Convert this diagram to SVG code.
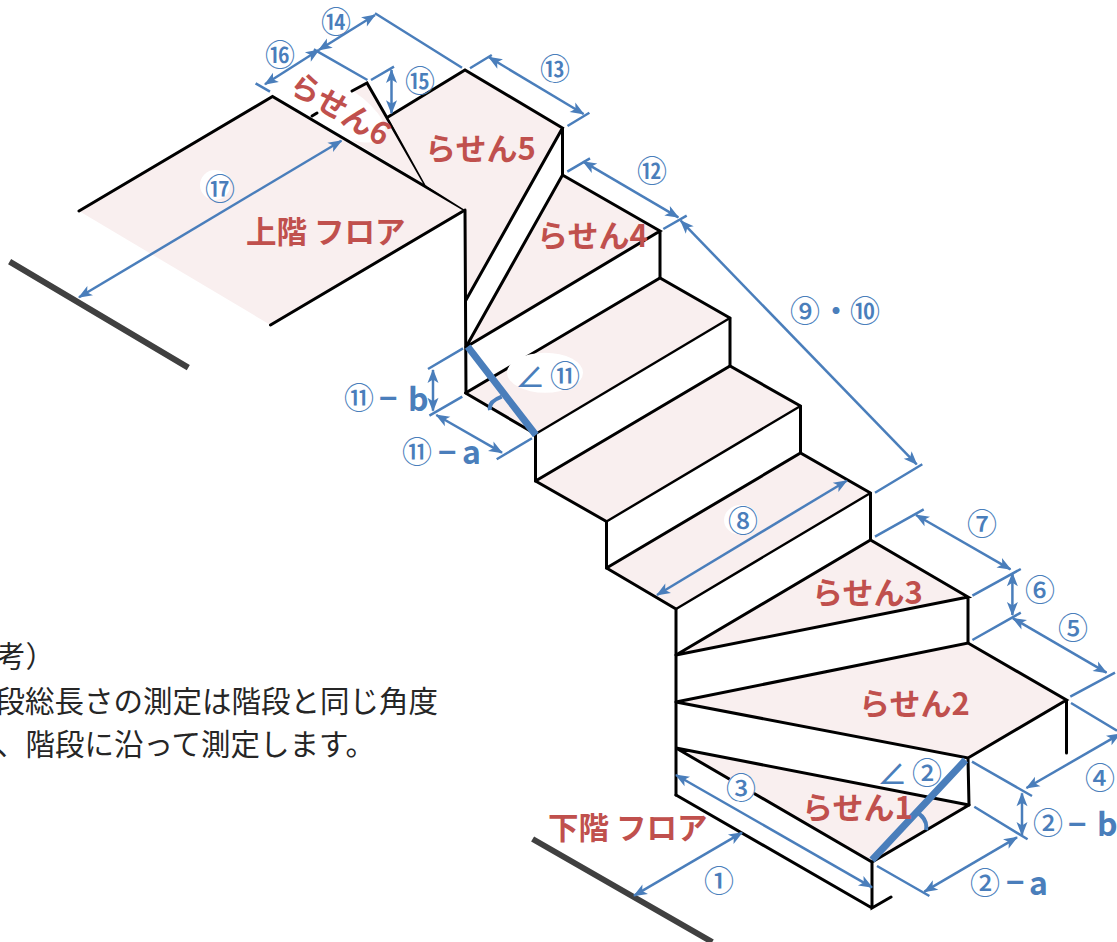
<svg xmlns="http://www.w3.org/2000/svg" width="1117" height="942" viewBox="0 0 1117 942">
<style>
text{font-family:"Noto Sans CJK JP","Noto Sans",sans-serif}
.t{fill:#f9efef;stroke:none}
.e{fill:none;stroke:#000;stroke-width:3;stroke-linejoin:miter;stroke-linecap:round}
.f{stroke-width:2.4}
.w{fill:#fff;stroke:none}
.d{fill:none;stroke:#4a7ebb;stroke-width:2.5}
.a{marker-start:url(#h);marker-end:url(#h)}
.g{fill:none;stroke:#404040;stroke-width:6}
.k{fill:none;stroke:#4a7ebb;stroke-width:7}
.q{stroke-width:4}
.r{fill:#c0504d;font-weight:700;font-size:31px}
.v{font-size:30.5px}
.n{fill:#4a7ebb;font-size:30px;font-weight:500;text-anchor:middle}
.b{fill:#4a7ebb;font-size:32px;font-weight:700}
.c{fill:#262626;font-size:29.5px}
</style>
<defs>
<marker id="h" viewBox="-14 -6 16 12" refX="0" refY="0" markerWidth="16" markerHeight="12" markerUnits="userSpaceOnUse" orient="auto-start-reverse">
<path d="M1 0L-13 -5.5L-9.5 0L-13 5.5Z" fill="#4a7ebb"/>
</marker>
</defs>
<g id="note">
<text class="c" x="-4" y="667">考）</text>
<text class="c" x="438" y="712" text-anchor="end">段総長さの測定は階段と同じ角度</text>
<text class="c" x="-4" y="755">、階段に沿って測定します。</text>
</g>
<g id="rasen6">
<polygon class="t" points="352,91 367,83 425.5,185 312,116"/>
<ellipse class="w" cx="332" cy="106" rx="60" ry="24" transform="rotate(30 332 106)"/>
<path class="e" d="M352 91L367 83L425.5 185M312 116L317 113"/>
</g>
<g id="upper-floor">
<polygon class="t" points="79,211 272.5,96.5 465,210 270.5,325"/>
<path class="e" d="M79 211L272.5 96.5L465 210L270.5 325"/>
</g>
<g id="rasen5">
<polygon class="t" points="388,117 465,70 562.5,128 466,300 465,210 425.5,185"/>
<path class="e" d="M388 117L465 70L562.5 128L466 300M562.5 128V175M465 210L466 393"/>
</g>
<g id="rasen4">
<polygon class="t" points="466,347 562.5,175 660,231"/>
<path class="e" d="M466 347L562.5 175L660 231L466 347M660 231V278"/>
</g>
<g id="step-upper">
<polygon class="t" points="465.5,393 660,278 730,318 535.5,434"/>
<path class="e" d="M465.5 393L660 278L730 318M535.5 434L465.5 393M730 318V366M535.5 434V481"/>
<path class="e f" d="M730 318L535.5 434"/>
</g>
<g id="step-middle">
<polygon class="t" points="535.5,481 730,366 800.5,406 606.5,521.5"/>
<path class="e" d="M535.5 481L730 366L800.5 406M606.5 521.5L535.5 481M800.5 406V453M606.5 521.5V568"/>
<path class="e f" d="M800.5 406L606.5 521.5"/>
</g>
<g id="step-lower">
<polygon class="t" points="606.5,568 800.5,453 870.5,493 676,609"/>
<path class="e" d="M606.5 568L800.5 453L870.5 493M676 609L606.5 568M870.5 493V540M676 609V795"/>
<path class="e f" d="M870.5 493L676 609"/>
</g>
<g id="rasen3">
<polygon class="t" points="676,655 870.5,540 968,597"/>
<path class="e" d="M676 655L870.5 540L968 597L676 655M968 597V643"/>
</g>
<g id="rasen2">
<polygon class="t" points="676,702 968,643 1066.5,700 968,758"/>
<path class="e" d="M676 702L968 643L1066.5 700L968 758L676 702M1066.5 700V753M968 758L969 805"/>
</g>
<g id="rasen1">
<polygon class="t" points="676,748 969,805 872,862"/>
<path class="e" d="M969 805L676 748L872 862L969 805M872 862V908L891 897M676 795L872 908"/>
</g>
<g id="connectors">
<path class="g" d="M9.6 261.7L188.3 367.7M532.6 839L712.3 942"/>
<path class="k" d="M467.7 346.7L535.8 435M965.5 760L872 860"/>
<path class="d q" d="M501.7 396.7Q488 402 490 410M918 813Q928 820 926 830"/>
<path class="d a" d="M318.8 50L375 15"/>
<path class="d a" d="M265 84.3L318.8 50"/>
<path class="d a" d="M391.5 70V113.3"/>
<path class="d a" d="M489 57.3L583.6 114"/>
<path class="d a" d="M583.3 161.7L678.3 217.3"/>
<path class="d a" d="M680.7 220.7L916.7 464.3"/>
<path class="d a" d="M846.7 480.7L657 595"/>
<path class="d a" d="M916 515L1010.5 569.3"/>
<path class="d a" d="M1012.4 573.3V615"/>
<path class="d a" d="M1013 618.3L1106.5 672.7"/>
<path class="d a" d="M1026.5 788L1120 734"/>
<path class="d a" d="M1022 793.3V835"/>
<path class="d a" d="M1017 837.3L924.4 891.7"/>
<path class="d a" d="M676 775L872 887.3"/>
<path class="d a" d="M634 895.7L742 832.7"/>
<path class="d a" d="M79 297.3L341.4 140.7"/>
<path class="d a" d="M433 370V410.7"/>
<path class="d a" d="M436.3 415L502 452.7"/>
<path class="d" d="M375 13.3L462 67.7M255.6 83.3L270 91.7M313.8 49.3L367.4 80M371 80L394 66.7M470 68.3L491.8 55M567.5 126L589.4 112.7M567.3 171.7L590 158.3M663.3 229L686.7 215.7M875 492.7L922.3 464.3M875 536.7L923.7 509.3M972.4 595.7L1020.8 569M972.4 640L1020.8 612.7M1070.3 696.7L1115 672.7M1071 703L1117 730.7M972 761.7L1032 796M974.3 806.7L1027.6 839.3M877 866L929.4 896M428 369L463 348.3M429.4 415.7L462.3 396.7M496.7 459.3L532 438.3"/>
</g>
<g id="labels">
<ellipse class="w" cx="215" cy="185" rx="15" ry="15"/>
<ellipse class="w" cx="741" cy="520" rx="17" ry="15"/>
<ellipse class="w" cx="741" cy="788" rx="14" ry="15"/>
<ellipse class="w" cx="545" cy="372.7" rx="38" ry="20"/>
<text class="n" x="336" y="33">⑭</text>
<text class="n" x="280" y="66">⑯</text>
<text class="n" x="420" y="92">⑮</text>
<text class="n" x="555" y="80">⑬</text>
<text class="n" x="652" y="182">⑫</text>
<text class="n" x="805" y="322">⑨</text>
<text class="n" x="836" y="322">・</text>
<text class="n" x="865" y="322">⑩</text>
<text class="n" x="743" y="532">⑧</text>
<text class="n" x="982" y="535">⑦</text>
<text class="n" x="1040" y="601">⑥</text>
<text class="n" x="1073" y="639">⑤</text>
<text class="n" x="1100" y="789">④</text>
<text class="n" x="719" y="892">①</text>
<text class="n" x="741" y="799">③</text>
<text class="n" x="220" y="200">⑰</text>
<text class="n" x="530" y="387">∠</text>
<text class="n" x="565" y="387">⑪</text>
<text class="n" x="892" y="784">∠</text>
<text class="n" x="927" y="784">②</text>
<text class="n" x="359" y="409">⑪</text>
<text class="b" transform="translate(377 410) scale(.7 1)">－</text>
<text class="b" x="408" y="411">b</text>
<text class="n" x="417" y="463">⑪</text>
<text class="b" transform="translate(436 464) scale(.7 1)">－</text>
<text class="b" x="462" y="464">a</text>
<text class="n" x="1048" y="834">②</text>
<text class="b" transform="translate(1066 836) scale(.7 1)">－</text>
<text class="b" x="1097" y="836">b</text>
<text class="n" x="985" y="894">②</text>
<text class="b" transform="translate(1004 894) scale(.7 1)">－</text>
<text class="b" x="1029" y="895">a</text>
<text class="r" x="425" y="160">らせん5</text>
<text class="r" x="537" y="247">らせん4</text>
<text class="r" x="812" y="604">らせん3</text>
<text class="r" x="859" y="715">らせん2</text>
<text class="r" x="802" y="819">らせん1</text>
<text class="r" x="0" y="0" transform="translate(287 90) rotate(31)">らせん6</text>
<text class="r v" x="246" y="243">上階 フロア</text>
<text class="r v" x="548" y="839">下階 フロア</text>
</g>
</svg>
